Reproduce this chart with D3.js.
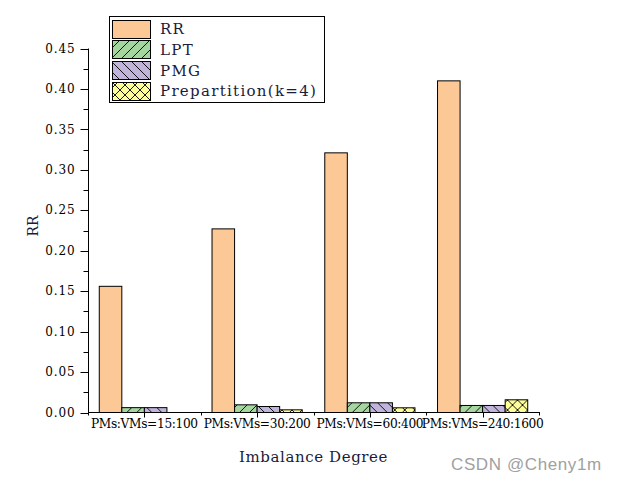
<!DOCTYPE html>
<html>
<head>
<meta charset="utf-8">
<script src="https://cdn.jsdelivr.net/npm/d3@7"></script>
<style>
  html, body { margin: 0; padding: 0; background: #fff; }
  svg { display: block; }
</style>
</head>
<body>
<svg id="chart" width="619" height="486"></svg>
<script>
const categories = ["PMs:VMs=15:100", "PMs:VMs=30:200", "PMs:VMs=60:400", "PMs:VMs=240:1600"];
const seriesNames = ["RR", "LPT", "PMG", "Prepartition(k=4)"];
const rrValues = [0.156, 0.227, 0.321, 0.410];
const lptValues = [0.006, 0.0095, 0.012, 0.0087];
const pmgValues = [0.006, 0.0074, 0.012, 0.0087];
const prepValues = [null, 0.0033, 0.0058, 0.0157];
const yTicks = [0, 0.05, 0.10, 0.15, 0.20, 0.25, 0.30, 0.35, 0.40, 0.45];
const xTitle = "Imbalance Degree";
const yTitle = "RR";
const watermark = "CSDN @Cheny1m";

const seriesValues = [rrValues, lptValues, pmgValues, prepValues];
const fills = ["#FBC896", "#A6D6A0", "#C0B4DA", "#FFFF99"];
const patternIds = [null, "pLPT", "pPMG", "pPREP"];

const svg = d3.select("#chart");
const fontSerif = "'DejaVu Serif', 'Liberation Serif', serif";

const plotLeft = 88, plotRight = 539, plotTop = 48.5, plotBottom = 412.5;

// patterns
const defs = svg.append("defs");
function makePattern(id, bg, paths) {
  const p = defs.append("pattern").attr("id", id).attr("patternUnits", "userSpaceOnUse")
    .attr("width", 10).attr("height", 10);
  p.append("rect").attr("width", 10).attr("height", 10).attr("fill", bg);
  paths.forEach(d => p.append("path").attr("d", d).attr("stroke", "#000").attr("stroke-width", 0.9).attr("fill", "none"));
}
makePattern("pLPT", fills[1], ["M0,10 L10,0", "M-2,2 L2,-2", "M8,12 L12,8"]);
makePattern("pPMG", fills[2], ["M0,0 L10,10", "M-2,8 L2,12", "M8,-2 L12,2"]);
makePattern("pPREP", fills[3], ["M0,10 L10,0", "M-2,2 L2,-2", "M8,12 L12,8", "M0,0 L10,10", "M-2,8 L2,12", "M8,-2 L12,2"]);

const x0 = d3.scaleBand().domain(categories).range([plotLeft, plotRight]).paddingInner(0.2).paddingOuter(0.1);
const x1 = d3.scaleBand().domain(seriesNames).range([0, x0.bandwidth()]);
const y = d3.scaleLinear().domain([0, 0.45]).range([plotBottom, plotTop]);

// bars
const groups = svg.append("g").selectAll("g").data(categories).join("g")
  .attr("transform", d => `translate(${x0(d)},0)`);
groups.each(function(cat, ci) {
  const g = d3.select(this);
  seriesNames.forEach((s, si) => {
    const v = seriesValues[si][ci];
    if (v == null) return;
    g.append("rect")
      .attr("x", x1(s))
      .attr("y", y(v))
      .attr("width", x1.bandwidth())
      .attr("height", y(0) - y(v))
      .attr("fill", patternIds[si] ? `url(#${patternIds[si]})` : fills[si])
      .attr("stroke", "#000")
      .attr("stroke-width", 1);
  });
});

// Y axis
const yAxis = svg.append("g").attr("transform", `translate(${plotLeft + 0.5},0)`);
yAxis.append("line").attr("x1", 0).attr("x2", 0).attr("y1", y(0.45)).attr("y2", y(0)).attr("stroke", "#000");
yTicks.forEach(t => {
  yAxis.append("line").attr("x1", -8).attr("x2", 0).attr("y1", Math.round(y(t)) + 0.5).attr("y2", Math.round(y(t)) + 0.5).attr("stroke", "#000");
  yAxis.append("text").attr("x", -13).attr("y", y(t)).attr("dy", "0.35em")
    .attr("text-anchor", "end").attr("font-family", fontSerif).attr("font-size", 12)
    .attr("letter-spacing", 0.9)
    .attr("fill", "#000").text(d3.format(".2f")(t));
});
for (let i = 0; i < yTicks.length - 1; i++) {
  const m = (yTicks[i] + yTicks[i + 1]) / 2;
  yAxis.append("line").attr("x1", -5).attr("x2", 0).attr("y1", Math.round(y(m)) + 0.5).attr("y2", Math.round(y(m)) + 0.5).attr("stroke", "#000");
}

// X axis
const xAxis = svg.append("g");
xAxis.append("line").attr("x1", plotLeft).attr("x2", plotRight + 1).attr("y1", plotBottom).attr("y2", plotBottom).attr("stroke", "#000");
categories.forEach(c => {
  const cx = Math.round(x0(c) + x0.bandwidth() / 2) + 0.5;
  xAxis.append("line").attr("x1", cx).attr("x2", cx).attr("y1", plotBottom).attr("y2", plotBottom + 5).attr("stroke", "#000");
  xAxis.append("text").attr("x", x0(c) + x0.bandwidth() / 2).attr("y", 428)
    .attr("text-anchor", "middle").attr("font-family", fontSerif).attr("font-size", 12.2)
    .attr("letter-spacing", -0.35)
    .attr("fill", "#000").text(c);
});
const bounds = [plotLeft, ...categories.slice(1).map(c => x0(c) - x0.step() * 0.1), plotRight];
bounds.forEach(b => {
  const bx = Math.round(b) + 0.5;
  xAxis.append("line").attr("x1", bx).attr("x2", bx).attr("y1", plotBottom).attr("y2", plotBottom + 3).attr("stroke", "#000");
});

// titles
svg.append("text").attr("x", (plotLeft + plotRight) / 2).attr("y", 462).attr("text-anchor", "middle")
  .attr("font-family", fontSerif).attr("font-size", 15).attr("letter-spacing", 0.6)
  .attr("fill", "#1b1b3a").text(xTitle);
svg.append("text").attr("transform", `translate(38,226) rotate(-90)`).attr("text-anchor", "middle")
  .attr("font-family", fontSerif).attr("font-size", 14).attr("fill", "#1b1b3a").text(yTitle);

// legend
const legend = svg.append("g");
legend.append("rect").attr("x", 109.5).attr("y", 16.5).attr("width", 215).attr("height", 86)
  .attr("fill", "#fff").attr("stroke", "#000").attr("stroke-width", 1);
seriesNames.forEach((s, i) => {
  const ry = 19.5 + i * 20.7;
  legend.append("rect").attr("x", 112.5).attr("y", Math.round(ry) + 0.5).attr("width", 38).attr("height", 18)
    .attr("fill", patternIds[i] ? `url(#${patternIds[i]})` : fills[i]).attr("stroke", "#000");
  legend.append("text").attr("x", 160).attr("y", ry + 9.5).attr("dy", "0.35em")
    .attr("font-family", fontSerif).attr("font-size", 15).attr("letter-spacing", 1.3)
    .attr("fill", "#1b1b3a").text(s);
});

// watermark
svg.append("text").attr("x", 451).attr("y", 470).attr("font-family", "'Liberation Sans', Arial, sans-serif")
  .attr("font-size", 17).attr("letter-spacing", 0.6).attr("fill", "#a0a0a0").text(watermark);
</script>
</body>
</html>
